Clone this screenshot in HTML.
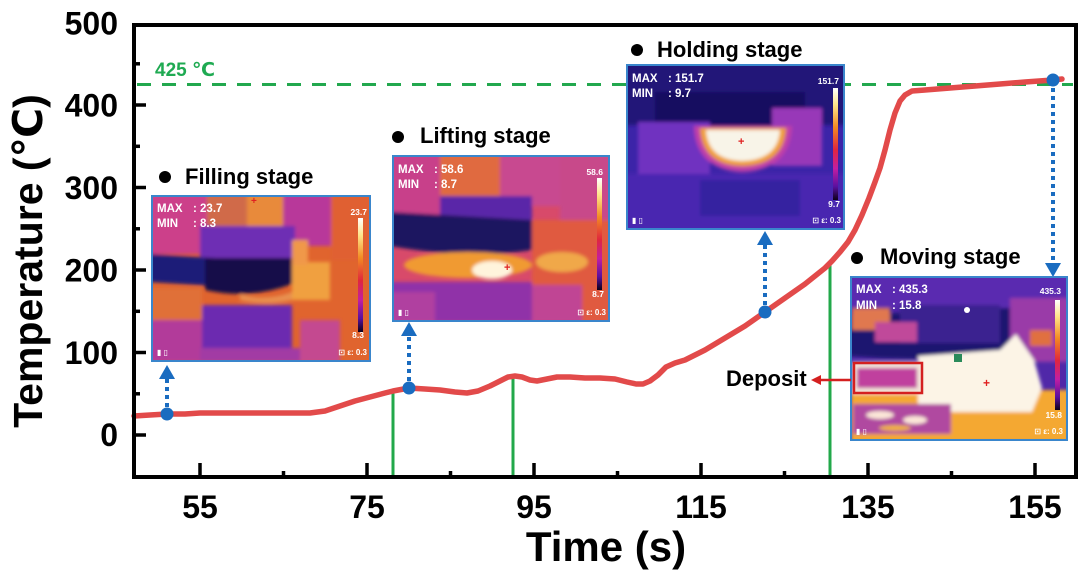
<!DOCTYPE html>
<html>
<head>
<meta charset="utf-8">
<style>
  html,body{margin:0;padding:0;background:#fff;}
  svg{display:block;}
  text{font-family:"Liberation Sans","DejaVu Sans",sans-serif;font-weight:bold;}
</style>
</head>
<body>
<svg width="1080" height="571" viewBox="0 0 1080 571" xmlns="http://www.w3.org/2000/svg">
  <defs>
    <linearGradient id="cbar" x1="0" y1="0" x2="0" y2="1">
      <stop offset="0" stop-color="#ffffff"/>
      <stop offset="0.15" stop-color="#ffe58a"/>
      <stop offset="0.35" stop-color="#f28a22"/>
      <stop offset="0.55" stop-color="#e0263e"/>
      <stop offset="0.72" stop-color="#c21ea2"/>
      <stop offset="0.88" stop-color="#5a10a0"/>
      <stop offset="1" stop-color="#0c0018"/>
    </linearGradient>
    <filter id="bl" x="-5%" y="-5%" width="110%" height="110%">
      <feGaussianBlur stdDeviation="1.8"/>
    </filter>
    <clipPath id="c1"><rect x="152" y="196" width="218" height="165"/></clipPath>
    <clipPath id="c2"><rect x="393" y="156" width="216" height="165"/></clipPath>
    <clipPath id="c3"><rect x="627" y="65" width="217" height="164"/></clipPath>
    <clipPath id="c4"><rect x="851" y="277" width="216" height="163"/></clipPath>
  </defs>

  <rect x="0" y="0" width="1080" height="571" fill="#fff"/>

  <!-- 425 dashed line -->
  <line x1="137" y1="84.5" x2="1073" y2="84.5" stroke="#22a84e" stroke-width="3" stroke-dasharray="14 11"/>
  <text x="155" y="76" font-size="19" fill="#1faa52">425 ℃</text>

  <!-- green vertical lines -->
  <line x1="393" y1="391" x2="393" y2="476" stroke="#22a84a" stroke-width="3"/>
  <line x1="513" y1="377" x2="513" y2="476" stroke="#22a84a" stroke-width="3"/>
  <line x1="830" y1="264" x2="830" y2="476" stroke="#22a84a" stroke-width="3"/>

  <!-- red curve -->
  <polyline fill="none" stroke="#e24a4a" stroke-width="5.5" stroke-linejoin="round" stroke-linecap="round"
    points="134,416 150,415 167,414 185,414 200,413 230,413 260,413 290,413 310,413 325,411 340,406 355,401 370,397 385,393 393,391 409,388 425,389 440,390 455,392 467,393 478,391 490,386 500,381 508,377 515,376 522,377 530,380 537,381 547,379 557,377 570,377 585,378 600,378 615,379 627,382 636,384 643,384 650,381 658,375 666,367 675,363 685,360 695,355 705,350 715,344 725,338 735,332 745,326 755,319 765,312 775,305 785,298 795,291 805,284 815,276 825,268 832,261 840,252 848,242 855,230 862,215 869,198 875,182 880,168 885,150 890,130 895,113 900,101 905,95 912,91 925,90 950,88 975,86 1000,84 1025,82 1053,80 1062,79"/>

  <!-- blue dotted arrows -->
  <g stroke="#1a6cc0" stroke-width="4" stroke-dasharray="4 4" fill="none">
    <line x1="167" y1="407" x2="167" y2="378"/>
    <line x1="409" y1="381" x2="409" y2="335"/>
    <line x1="765" y1="305" x2="765" y2="244"/>
    <line x1="1053" y1="88" x2="1053" y2="264"/>
  </g>
  <g fill="#1a6cc0">
    <polygon points="159,379 175,379 167,365"/>
    <polygon points="401,336 417,336 409,322"/>
    <polygon points="757,245 773,245 765,231"/>
    <polygon points="1045,263 1061,263 1053,277"/>
    <circle cx="167" cy="414" r="6.5"/>
    <circle cx="409" cy="388" r="6.5"/>
    <circle cx="765" cy="312" r="6.5"/>
    <circle cx="1053" cy="80" r="6.5"/>
  </g>

  <!-- ========== Filling inset ========== -->
  <g clip-path="url(#c1)">
    <rect x="152" y="196" width="218" height="165" fill="#e0642e"/>
    <g filter="url(#bl)">
      <rect x="150" y="194" width="58" height="60" fill="#cc3f8a"/>
      <rect x="207" y="194" width="40" height="36" fill="#d06a48"/>
      <rect x="247" y="194" width="36" height="36" fill="#e88a3a"/>
      <rect x="283" y="194" width="48" height="52" fill="#b8389a"/>
      <rect x="331" y="194" width="40" height="66" fill="#e06030"/>
      <rect x="200" y="226" width="95" height="36" fill="#6e2eb4"/>
      <polygon points="150,254 215,258 215,286 150,282" fill="#1e1a78"/>
      <path d="M205,258 L292,258 L292,284 Q250,300 205,290 Z" fill="#14104a"/>
      <path d="M240,294 Q265,302 292,292 L292,300 Q265,306 240,300 Z" fill="#e89050"/>
      <rect x="200" y="305" width="92" height="44" fill="#6c2cb0"/>
      <rect x="150" y="288" width="52" height="32" fill="#e07038"/>
      <rect x="150" y="320" width="52" height="42" fill="#b23a9a"/>
      <rect x="200" y="348" width="100" height="14" fill="#a23aa4"/>
      <rect x="292" y="262" width="38" height="38" fill="#f0a040"/>
      <rect x="300" y="320" width="40" height="42" fill="#c44a90"/>
      <rect x="292" y="240" width="16" height="25" fill="#f09848"/>
    </g>
    <rect x="358" y="218" width="5" height="114" fill="url(#cbar)"/>
    <text x="157" y="212" font-size="11.5" fill="#fff">MAX</text>
    <text x="193" y="212" font-size="11.5" fill="#fff">: 23.7</text>
    <text x="157" y="227" font-size="11.5" fill="#fff">MIN</text>
    <text x="193" y="227" font-size="11.5" fill="#fff">: 8.3</text>
    <text x="367" y="215" font-size="8.5" fill="#fff" text-anchor="end" font-weight="normal">23.7</text>
    <text x="364" y="338" font-size="8.5" fill="#fff" text-anchor="end" font-weight="normal">8.3</text>
    <text x="157" y="355" font-size="8" fill="#fff" font-weight="normal">▮ ▯</text>
    <text x="367" y="355" font-size="8" fill="#fff" text-anchor="end" font-weight="normal">⊡ ε: 0.3</text>
    <text x="251" y="204" font-size="10" fill="#e02020" font-weight="normal">+</text>
  </g>
  <rect x="152" y="196" width="218" height="165" fill="none" stroke="#3a86cc" stroke-width="2"/>
  <circle cx="165" cy="177" r="6" fill="#000"/>
  <text x="185" y="184" font-size="22" fill="#000">Filling stage</text>

  <!-- ========== Lifting inset ========== -->
  <g clip-path="url(#c2)">
    <rect x="393" y="156" width="216" height="165" fill="#d84a6a"/>
    <g filter="url(#bl)">
      <rect x="390" y="154" width="52" height="70" fill="#c8408a"/>
      <rect x="440" y="154" width="60" height="44" fill="#e06a40"/>
      <rect x="500" y="154" width="60" height="52" fill="#c84a90"/>
      <rect x="560" y="154" width="52" height="66" fill="#c8488a"/>
      <rect x="440" y="196" width="92" height="28" fill="#5a28a8"/>
      <path d="M390,212 L532,220 L532,250 Q470,260 390,246 Z" fill="#1a1660"/>
      <ellipse cx="468" cy="265" rx="64" ry="13" fill="#f09a30"/>
      <ellipse cx="492" cy="270" rx="20" ry="9" fill="#fff4dc"/>
      <rect x="532" y="220" width="80" height="102" fill="#e05a40"/>
      <ellipse cx="562" cy="262" rx="26" ry="10" fill="#f0a848"/>
      <rect x="390" y="282" width="142" height="40" fill="#9030a8"/>
      <rect x="390" y="292" width="45" height="30" fill="#b040a0"/>
      <rect x="532" y="285" width="50" height="37" fill="#c04494"/>
    </g>
    <rect x="597" y="178" width="5" height="112" fill="url(#cbar)"/>
    <text x="398" y="173" font-size="11.5" fill="#fff">MAX</text>
    <text x="434" y="173" font-size="11.5" fill="#fff">: 58.6</text>
    <text x="398" y="188" font-size="11.5" fill="#fff">MIN</text>
    <text x="434" y="188" font-size="11.5" fill="#fff">: 8.7</text>
    <text x="603" y="175" font-size="8.5" fill="#fff" text-anchor="end" font-weight="normal">58.6</text>
    <text x="604" y="297" font-size="8.5" fill="#fff" text-anchor="end" font-weight="normal">8.7</text>
    <text x="398" y="315" font-size="8" fill="#fff" font-weight="normal">▮ ▯</text>
    <text x="606" y="315" font-size="8" fill="#fff" text-anchor="end" font-weight="normal">⊡ ε: 0.3</text>
    <text x="504" y="271" font-size="11" fill="#e02020" font-weight="normal">+</text>
  </g>
  <rect x="393" y="156" width="216" height="165" fill="none" stroke="#3a86cc" stroke-width="2"/>
  <circle cx="398" cy="137" r="6" fill="#000"/>
  <text x="420" y="143" font-size="22" fill="#000">Lifting stage</text>

  <!-- ========== Holding inset ========== -->
  <g clip-path="url(#c3)">
    <rect x="627" y="65" width="217" height="164" fill="#3c24a8"/>
    <g filter="url(#bl)">
      <rect x="625" y="63" width="222" height="62" fill="#201878"/>
      <rect x="655" y="92" width="150" height="36" fill="#141060"/>
      <rect x="638" y="122" width="72" height="52" fill="#7030c0"/>
      <rect x="772" y="108" width="50" height="58" fill="#9838b8"/>
      <path d="M694,126 L792,126 Q790,170 742,172 Q696,170 694,126 Z" fill="#c040a8"/>
      <path d="M700,128 L786,128 Q784,165 742,166 Q702,165 700,128 Z" fill="#f0a030"/>
      <path d="M706,130 L780,130 Q778,160 742,161 Q708,160 706,130 Z" fill="#f8f4e8"/>
      <rect x="625" y="174" width="222" height="58" fill="#4828b0"/>
      <rect x="700" y="180" width="100" height="36" fill="#3420a0"/>
    </g>
    <rect x="833" y="88" width="5" height="112" fill="url(#cbar)"/>
    <text x="632" y="82" font-size="11.5" fill="#fff">MAX</text>
    <text x="668" y="82" font-size="11.5" fill="#fff">: 151.7</text>
    <text x="632" y="97" font-size="11.5" fill="#fff">MIN</text>
    <text x="668" y="97" font-size="11.5" fill="#fff">: 9.7</text>
    <text x="839" y="84" font-size="8.5" fill="#fff" text-anchor="end" font-weight="normal">151.7</text>
    <text x="840" y="207" font-size="8.5" fill="#fff" text-anchor="end" font-weight="normal">9.7</text>
    <text x="632" y="223" font-size="8" fill="#fff" font-weight="normal">▮ ▯</text>
    <text x="841" y="223" font-size="8" fill="#fff" text-anchor="end" font-weight="normal">⊡ ε: 0.3</text>
    <text x="738" y="145" font-size="11" fill="#e02020" font-weight="normal">+</text>
  </g>
  <rect x="627" y="65" width="217" height="164" fill="none" stroke="#3a86cc" stroke-width="2"/>
  <circle cx="637" cy="50" r="6" fill="#000"/>
  <text x="657" y="57" font-size="22" fill="#000">Holding stage</text>

  <!-- ========== Moving inset ========== -->
  <g clip-path="url(#c4)">
    <rect x="851" y="277" width="216" height="163" fill="#5028a8"/>
    <g filter="url(#bl)">
      <rect x="849" y="275" width="220" height="32" fill="#5a2cb0"/>
      <polygon points="849,315 1012,308 1012,352 962,360 880,358 849,356" fill="#1c1670"/>
      <rect x="900" y="305" width="100" height="38" fill="#3a2490"/>
      <rect x="852" y="308" width="38" height="22" fill="#e07850"/>
      <rect x="875" y="322" width="42" height="20" fill="#c0489a"/>
      <rect x="1010" y="298" width="60" height="64" fill="#9a3aa8"/>
      <rect x="1030" y="330" width="22" height="16" fill="#e07040"/>
      <rect x="851" y="390" width="218" height="52" fill="#f4a830"/>
      <polygon points="918,356 1000,350 1016,334 1034,360 1042,388 1032,412 918,412" fill="#fcf4e6"/>
      <rect x="852" y="362" width="70" height="32" fill="#f2e4d8"/>
      <rect x="857" y="368" width="60" height="20" fill="#c0409e"/>
      <rect x="853" y="404" width="98" height="30" fill="#b048a0"/>
      <ellipse cx="880" cy="415" rx="14" ry="4" fill="#fbe6d8"/>
      <ellipse cx="915" cy="420" rx="12" ry="4" fill="#fbe6d8"/>
      <ellipse cx="895" cy="428" rx="16" ry="3" fill="#f0b040"/>
    </g>
    <circle cx="967" cy="310" r="3" fill="#fff"/>
    <rect x="954" y="354" width="8" height="8" fill="#2a8a5a"/>
    <rect x="1055" y="300" width="5" height="110" fill="url(#cbar)"/>
    <text x="856" y="293" font-size="11.5" fill="#fff">MAX</text>
    <text x="892" y="293" font-size="11.5" fill="#fff">: 435.3</text>
    <text x="856" y="309" font-size="11.5" fill="#fff">MIN</text>
    <text x="892" y="309" font-size="11.5" fill="#fff">: 15.8</text>
    <text x="1061" y="294" font-size="8.5" fill="#fff" text-anchor="end" font-weight="normal">435.3</text>
    <text x="1062" y="418" font-size="8.5" fill="#fff" text-anchor="end" font-weight="normal">15.8</text>
    <text x="856" y="434" font-size="8" fill="#fff" font-weight="normal">▮ ▯</text>
    <text x="1063" y="434" font-size="8" fill="#fff" text-anchor="end" font-weight="normal">⊡ ε: 0.3</text>
    <text x="983" y="387" font-size="12" fill="#e02020" font-weight="normal">+</text>
  </g>
  <rect x="854" y="363" width="68" height="30" fill="none" stroke="#d42020" stroke-width="2.5"/>
  <rect x="851" y="277" width="216" height="163" fill="none" stroke="#3a86cc" stroke-width="2"/>
  <circle cx="857" cy="258" r="6" fill="#000"/>
  <text x="880" y="264" font-size="22" fill="#000">Moving stage</text>

  <!-- Deposit label and arrow -->
  <line x1="851" y1="380" x2="818" y2="380" stroke="#d42020" stroke-width="2.5"/>
  <polygon points="811,380 821,375 821,385" fill="#d42020"/>
  <text x="726" y="386" font-size="22" fill="#000">Deposit</text>

  <!-- ========== Axes ========== -->
  <rect x="134" y="25" width="942" height="452" fill="none" stroke="#000" stroke-width="4"/>
  <g stroke="#000" stroke-width="3.5">
    <line x1="134" y1="435" x2="146" y2="435"/>
    <line x1="134" y1="352.5" x2="146" y2="352.5"/>
    <line x1="134" y1="270" x2="146" y2="270"/>
    <line x1="134" y1="187.5" x2="146" y2="187.5"/>
    <line x1="134" y1="105" x2="146" y2="105"/>
    <line x1="134" y1="393.8" x2="140" y2="393.8"/>
    <line x1="134" y1="311.3" x2="140" y2="311.3"/>
    <line x1="134" y1="228.8" x2="140" y2="228.8"/>
    <line x1="134" y1="146.3" x2="140" y2="146.3"/>
    <line x1="134" y1="63.8" x2="140" y2="63.8"/>
    <line x1="200" y1="477" x2="200" y2="463"/>
    <line x1="367" y1="477" x2="367" y2="463"/>
    <line x1="534" y1="477" x2="534" y2="463"/>
    <line x1="701" y1="477" x2="701" y2="463"/>
    <line x1="868" y1="477" x2="868" y2="463"/>
    <line x1="1035" y1="477" x2="1035" y2="463"/>
    <line x1="283.5" y1="477" x2="283.5" y2="471"/>
    <line x1="450.5" y1="477" x2="450.5" y2="471"/>
    <line x1="617.5" y1="477" x2="617.5" y2="471"/>
    <line x1="784.5" y1="477" x2="784.5" y2="471"/>
    <line x1="951.5" y1="477" x2="951.5" y2="471"/>
  </g>

  <g font-size="32" fill="#000" text-anchor="end">
    <text x="118" y="446">0</text>
    <text x="118" y="364">100</text>
    <text x="118" y="281.5">200</text>
    <text x="118" y="199">300</text>
    <text x="118" y="116.5">400</text>
    <text x="118" y="34.5">500</text>
  </g>
  <g font-size="32" fill="#000" text-anchor="middle">
    <text x="200" y="518">55</text>
    <text x="367" y="518">75</text>
    <text x="534" y="518">95</text>
    <text x="701" y="518">115</text>
    <text x="868" y="518">135</text>
    <text x="1035" y="518">155</text>
  </g>

  <text x="606" y="561" font-size="42" fill="#000" text-anchor="middle">Time (s)</text>
  <text transform="translate(42,261) rotate(-90)" font-size="41" fill="#000" text-anchor="middle">Temperature (℃)</text>
</svg>
</body>
</html>
